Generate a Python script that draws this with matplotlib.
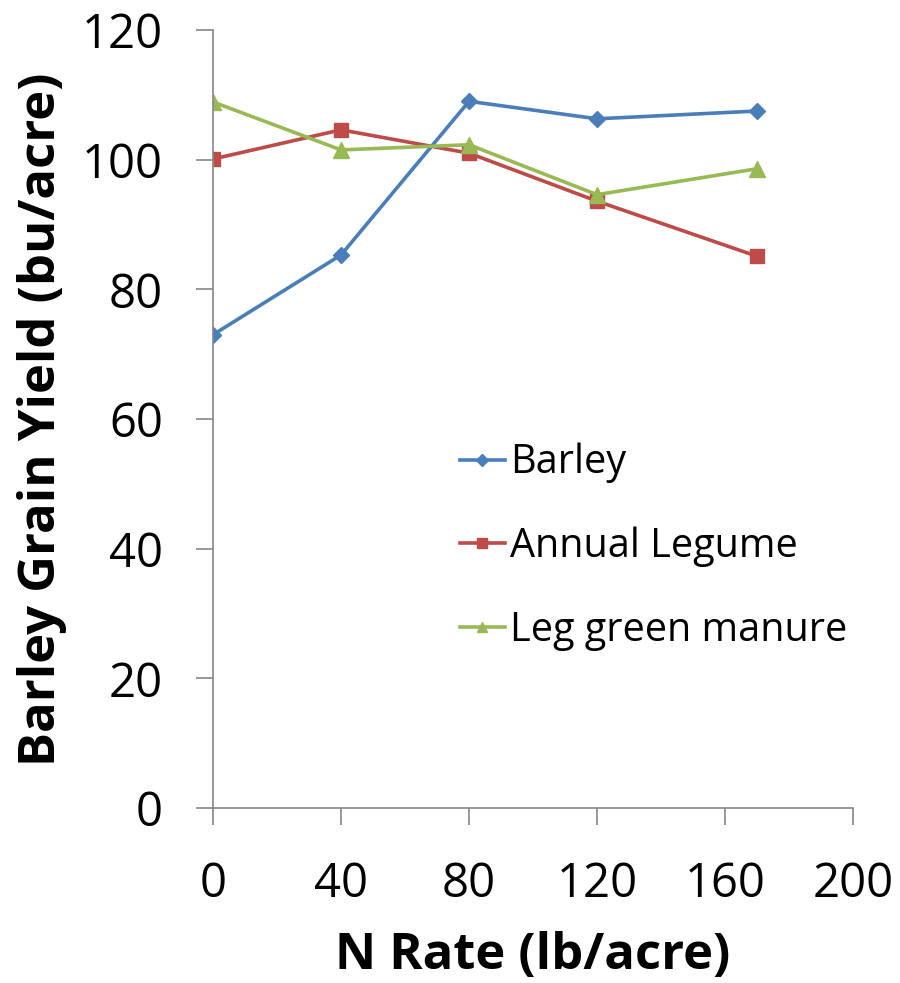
import matplotlib.pyplot as plt

plt.rcParams['font.family'] = ['Open Sans', 'DejaVu Sans']

n_rate = [0, 40, 80, 120, 170]
barley = [73.0, 85.3, 109.0, 106.3, 107.5]
annual_legume = [100.1, 104.6, 101.0, 93.6, 85.1]
leg_green_manure = [108.9, 101.5, 102.3, 94.6, 98.6]

x_ticks = [0, 40, 80, 120, 160, 200]
y_ticks = [0, 20, 40, 60, 80, 100, 120]

fig = plt.figure(figsize=(9, 9.83), dpi=100)
ax = fig.add_axes([0.2367, 0.178, 0.7111, 0.7915])

ax.plot(n_rate, barley, color='#4A7EBB', lw=2.6, marker='D', ms=8.5,
        label='Barley')
ax.plot(n_rate, annual_legume, color='#BE4B48', lw=2.6, marker='s', ms=10,
        label='Annual Legume')
ax.plot(n_rate, leg_green_manure, color='#98B954', lw=2.6, marker='^', ms=11,
        label='Leg green manure')

ax.set_xlim(0, 200)
ax.set_ylim(0, 120)
ax.set_xticks(x_ticks)
ax.set_yticks(y_ticks)

for side in ['top', 'right']:
    ax.spines[side].set_visible(False)
for side in ['left', 'bottom']:
    ax.spines[side].set_color('#868686')
    ax.spines[side].set_linewidth(1.2)
ax.tick_params(axis='both', colors='#868686', length=12, width=1.2,
               labelsize=34, labelcolor='black')
ax.tick_params(axis='x', pad=26)
ax.tick_params(axis='y', pad=24)

ax.set_xlabel('N Rate (lb/acre)', fontsize=36.5, fontweight='bold', labelpad=16)
ax.set_ylabel('Barley Grain Yield (bu/acre)', fontsize=36.5, fontweight='bold',
              labelpad=11)

ax.legend(loc='upper left', bbox_to_anchor=(0.33, 0.515), frameon=False,
          fontsize=28.5, handlelength=1.14, handletextpad=0.13, labelspacing=1.09,
          markerscale=0.7)

fig.savefig('out.png', dpi=100)
